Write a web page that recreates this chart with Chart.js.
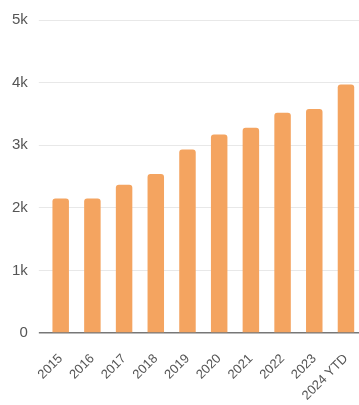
<!DOCTYPE html>
<html>
<head>
<meta charset="utf-8">
<script src="https://cdn.jsdelivr.net/npm/chart.js@4"></script>
<style>
  html, body { margin: 0; padding: 0; background: #fff; overflow: hidden; }
  #wrap { width: 367px; height: 405px; position: relative; }
</style>
</head>
<body>
<div id="wrap"><canvas id="chrt"></canvas></div>
<script>
const years = ['2015', '2016', '2017', '2018', '2019', '2020', '2021', '2022', '2023', '2024 YTD'];
const counts = [2150, 2150, 2370, 2540, 2930, 3170, 3280, 3520, 3580, 3970];
const yTicks = [0, 1000, 2000, 3000, 4000, 5000];

const barColor = '#F4A460';

new Chart(document.getElementById('chrt'), {
  type: 'bar',
  data: {
    labels: years,
    datasets: [{
      label: 'Count',
      data: counts,
      backgroundColor: barColor,
      borderRadius: { topLeft: 3, topRight: 3 },
      borderSkipped: 'bottom',
      barPercentage: 0.52,
      categoryPercentage: 1.0
    }]
  },
  options: {
    responsive: true,
    maintainAspectRatio: false,
    animation: { duration: 0 },
    layout: { padding: { left: 1, right: 0, top: 3, bottom: 0 } },
    scales: {
      y: {
        min: 0,
        max: 5000,
        afterBuildTicks: function(axis) {
          axis.ticks = yTicks.map(v => ({ value: v }));
        },
        ticks: {
          color: '#555',
          font: { family: 'Liberation Sans, Arial', size: 15 },
          padding: 11,
          callback: v => v === 0 ? '0' : (v / 1000) + 'k'
        },
        border: { display: false },
        grid: {
          color: ctx => ctx.tick && ctx.tick.value === 0 ? '#777' : '#e8e8e8',
          lineWidth: ctx => ctx.tick && ctx.tick.value === 0 ? 1.5 : 1,
          drawTicks: true,
          tickLength: 6
        }
      },
      x: {
        afterFit: function(axis) {
          axis.height = 72;
        },
        ticks: {
          color: '#555',
          font: { family: 'Liberation Sans, Arial', size: 13 },
          minRotation: 45,
          maxRotation: 45,
          autoSkip: false,
          padding: 10
        },
        border: { display: false },
        grid: { display: false }
      }
    },
    plugins: {
      legend: { display: false },
      tooltip: { enabled: false }
    }
  }
});
</script>
</body>
</html>
